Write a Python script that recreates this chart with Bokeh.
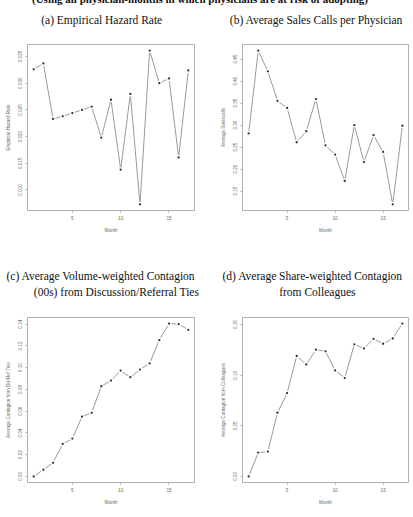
from bokeh.plotting import figure
from bokeh.layouts import column, row
from bokeh.models import Title, FixedTicker, Div, PrintfTickFormatter
from bokeh.embed import file_html
from bokeh.resources import INLINE

months = list(range(1, 18))
hazard = [0.0326, 0.0337, 0.0233, 0.0238, 0.0244, 0.0250, 0.0256, 0.0198, 0.0269,
          0.0138, 0.0280, 0.0073, 0.0361, 0.0300, 0.0309, 0.0161, 0.0324]
salescalls = [0.281, 0.469, 0.422, 0.355, 0.339, 0.261, 0.286, 0.359, 0.254,
              0.233, 0.173, 0.300, 0.216, 0.277, 0.239, 0.120, 0.2985]
contagion_disref = [0.000, 0.0061, 0.0125, 0.0299, 0.0348, 0.0549, 0.0585, 0.0829, 0.0881,
                    0.0973, 0.0912, 0.0982, 0.1040, 0.1253, 0.1405, 0.1400, 0.1348]
contagion_colleagues = [0.000, 0.0235, 0.0245, 0.0629, 0.0822, 0.1190, 0.1106, 0.1252, 0.1236,
                        0.1047, 0.0972, 0.1305, 0.1265, 0.1360, 0.1311, 0.1363, 0.1510]

x_ticks = [5, 10, 15]
hazard_ticks = [0.010, 0.015, 0.020, 0.025, 0.030, 0.035]
sales_ticks = [0.15, 0.20, 0.25, 0.30, 0.35, 0.40, 0.45]
disref_ticks = [0.00, 0.02, 0.04, 0.06, 0.08, 0.10, 0.12, 0.14]
coll_ticks = [0.00, 0.05, 0.10, 0.15]

supertitle = "(Using all physician-months in which physicians are at risk of adopting)"
titles = {
    "a": ["(a) Empirical Hazard Rate"],
    "b": ["(b) Average Sales Calls per Physician"],
    "c": ["(c) Average Volume-weighted Contagion", "(00s) from Discussion/Referral Ties"],
    "d": ["(d) Average Share-weighted Contagion", "from Colleagues"],
}
ylabels = {
    "a": "Empirical Hazard Rate",
    "b": "Average Salescalls",
    "c": "Average Contagion from Dis/Ref Ties",
    "d": "Average Contagion from Colleagues",
}


def rrange(v):
    lo, hi = min(v), max(v)
    s = hi - lo
    return (lo - 0.04 * s, hi + 0.04 * s)


def panel(vals, yticks, yfmt, ylabel, width, height, left, right, top, bottom,
          title_lines, gap):
    p = figure(width=width, height=height, x_range=rrange(months), y_range=rrange(vals),
               output_backend="svg", toolbar_location=None,
               min_border_left=left, min_border_right=right,
               min_border_top=top, min_border_bottom=bottom)
    p.grid.visible = False
    p.outline_line_color = "#b0b0b0"
    p.outline_line_width = 1

    p.line(months, vals, color="#9a9a9a", line_width=1)
    p.scatter(months, vals, size=5, color="white", line_color=None)
    p.scatter(months, vals, size=2.3, color="#333333", line_color=None)

    p.xaxis.ticker = FixedTicker(ticks=x_ticks)
    p.yaxis.ticker = FixedTicker(ticks=yticks)
    p.yaxis.formatter = PrintfTickFormatter(format=yfmt)
    p.yaxis.major_label_orientation = "vertical"
    for ax in (p.xaxis, p.yaxis):
        ax.axis_line_color = None
        ax.major_tick_line_color = "#b0b0b0"
        ax.major_tick_out = 2
        ax.major_tick_in = 0
        ax.minor_tick_line_color = None
        ax.major_label_text_font = "Liberation Sans"
        ax.major_label_text_font_size = "4.6px"
        ax.major_label_text_color = "#666666"
        ax.major_label_standoff = 3
        ax.axis_label_text_font = "Liberation Sans"
        ax.axis_label_text_font_size = "4.6px"
        ax.axis_label_text_font_style = "normal"
        ax.axis_label_text_color = "#666666"
        ax.axis_label_standoff = 5
    p.xaxis.axis_label = "Month"
    p.yaxis.axis_label = ylabel

    # spacer between frame and titles
    p.add_layout(Title(text=" ", text_font_size="1px", standoff=gap), "above")
    # later-added titles sit further from the frame
    for (txt, off) in reversed(title_lines):
        p.add_layout(Title(text=txt, align="left", offset=off, standoff=2,
                           text_font="Liberation Serif", text_font_size="11.5px",
                           text_font_style="normal", text_color="#111111"), "above")
    return p


pa = panel(hazard, hazard_ticks, "%.3f", ylabels["a"], 205, 253, 27, 11, 39, 48,
           [(titles["a"][0], 13.7)], 15)
pb = panel(salescalls, sales_ticks, "%.2f", ylabels["b"], 208, 253, 37, 5, 39, 48,
           [(titles["b"][0], -12.7)], 15)
pc = panel(contagion_disref, disref_ticks, "%.2f", ylabels["c"], 205, 259, 27, 11, 59, 35,
           [(titles["c"][0], -21), (titles["c"][1], 6.3)], 15.5)
pd = panel(contagion_colleagues, coll_ticks, "%.2f", ylabels["d"], 208, 259, 37, 5, 59, 35,
           [(titles["d"][0], -20), (titles["d"][1], 36.7)], 15.5)

top = Div(text=('<div style="position:relative; top:-9px; left:32px; white-space:nowrap; '
                'font-family:\'Liberation Serif\'; font-weight:bold; font-size:11px; '
                'line-height:12px; color:#111;">' + supertitle + '</div>'),
          width=413, height=5, margin=0, styles={"overflow": "hidden"})

layout = column(top, row(pa, pb), row(pc, pd))
open("out.html", "w").write(file_html(layout, INLINE))
